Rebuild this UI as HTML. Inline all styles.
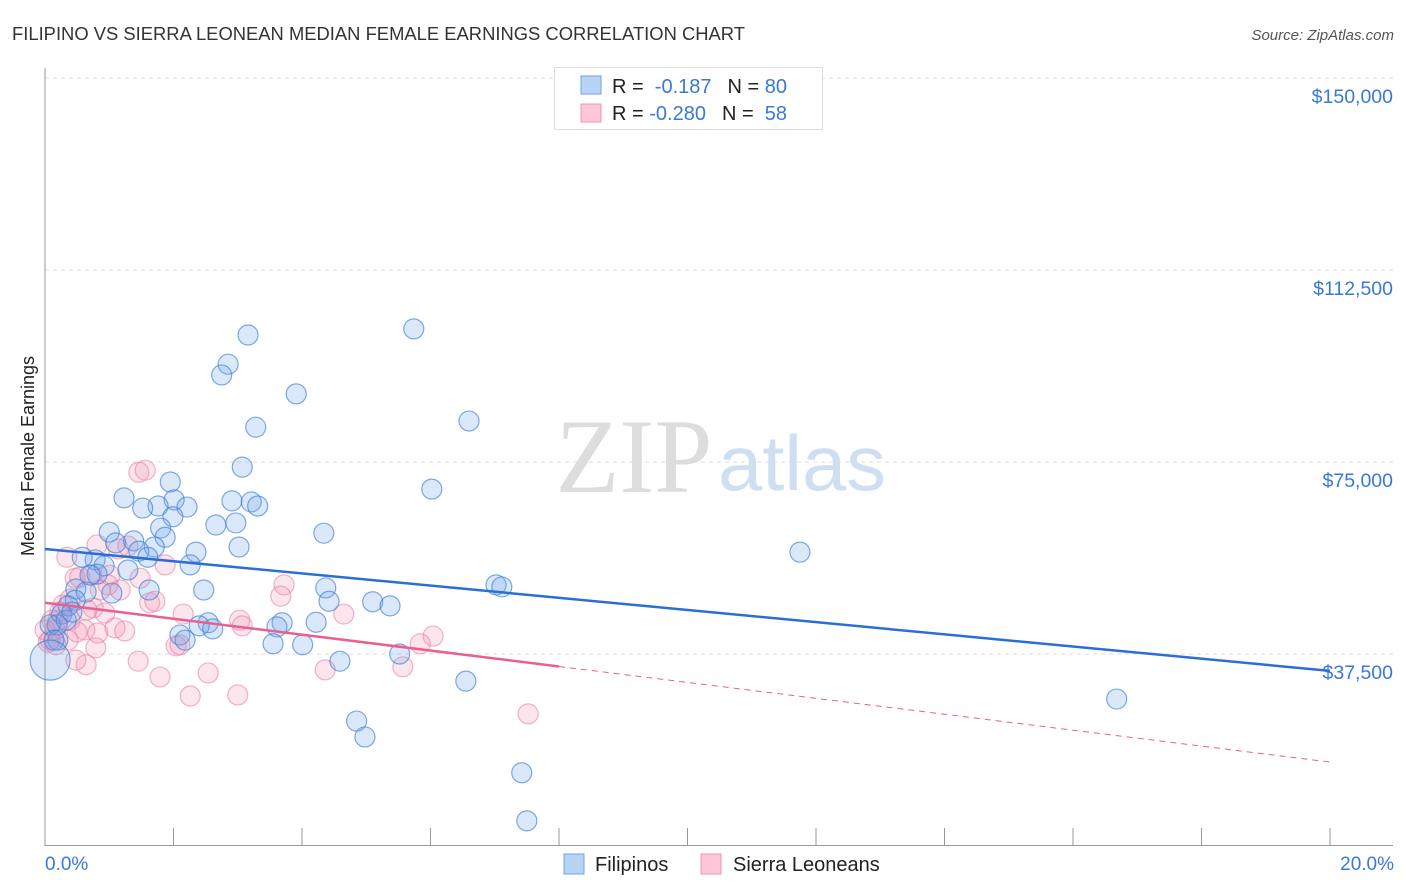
<!DOCTYPE html>
<html><head><meta charset="utf-8"><style>
body{margin:0;background:#fff;font-family:"Liberation Sans",sans-serif;}
svg{display:block}
</style></head><body>
<svg id="chart" width="1406" height="892">
<text x="12" y="40" font-size="18" fill="#333" textLength="733" lengthAdjust="spacingAndGlyphs">FILIPINO VS SIERRA LEONEAN MEDIAN FEMALE EARNINGS CORRELATION CHART</text>
<text x="1394" y="40" font-size="15" fill="#555" font-style="italic" text-anchor="end">Source: ZipAtlas.com</text>
<g>
<text x="634" y="492" font-size="106" font-family="Liberation Serif,serif" fill="#ddd" text-anchor="middle" textLength="157" lengthAdjust="spacingAndGlyphs">ZIP</text>
<text x="802" y="490" font-size="78" fill="#cfdff3" text-anchor="middle" textLength="168" lengthAdjust="spacingAndGlyphs">atlas</text>
</g>
<text transform="translate(34,456) rotate(-90)" font-size="18" fill="#222" text-anchor="middle">Median Female Earnings</text>
<g id="grid"></g><g id="ticks"></g><g id="pts"></g><g id="lines"></g>
<g>
<rect x="554.5" y="67.5" width="268" height="62" fill="#fff" stroke="#ddd"/>
<rect x="581" y="76" width="20" height="18" fill="#b8d4f5" stroke="#6fa3e6"/>
<rect x="581" y="104" width="20" height="18" fill="#fcc8d8" stroke="#ec95b0"/>
<text x="612" y="93" font-size="20" fill="#222">R = <tspan fill="#3a78d8">&#160;-0.187</tspan><tspan dx="16">N = </tspan><tspan fill="#3a78d8">80</tspan></text>
<text x="612" y="120" font-size="20" fill="#222">R = <tspan fill="#3a78d8">-0.280</tspan><tspan dx="16">N = </tspan><tspan fill="#3a78d8">&#160;58</tspan></text>
</g>
<text x="45" y="870" font-size="19" fill="#3a78d8">0.0%</text>
<text x="1394" y="870" font-size="19" fill="#3a78d8" text-anchor="end">20.0%</text>
<g>
<rect x="564" y="854" width="20" height="20" fill="#b8d4f5" stroke="#6fa3e6"/>
<text x="595" y="871" font-size="20" fill="#222">Filipinos</text>
<rect x="701" y="854" width="20" height="20" fill="#fcc8d8" stroke="#ec95b0"/>
<text x="733" y="871" font-size="20" fill="#222">Sierra Leoneans</text>
</g>
</svg>
<script>
const yTicks=[37500,75000,112500,150000];
const yTickLabels=["$37,500","$75,000","$112,500","$150,000"];
const blueX=[3.16,2.85,2.75,5.74,3.91,3.28,6.60,3.07,6.02,1.23,1.95,2.01,2.91,3.21,3.31,1.76,1.52,2.21,1.99,2.66,2.97,1.00,1.80,4.34,1.87,1.10,1.38,3.02,1.70,2.35,1.46,11.75,1.60,0.78,0.58,2.26,1.29,0.92,0.81,0.70,4.37,7.02,7.11,2.47,0.48,1.62,0.64,1.04,4.42,5.10,5.37,0.47,0.36,0.26,4.22,3.69,3.61,2.54,2.40,2.61,0.19,0.08,2.10,2.18,3.55,4.01,4.59,5.52,6.55,16.68,4.85,4.98,7.42,7.50,0.33,0.20,0.42,0.14,0.08];
const blueY=[99800,94100,92000,101000,88300,81800,83000,74000,69700,68000,71100,67600,67400,67200,66400,66400,66000,66200,64300,62700,63100,61300,62100,61100,60300,59200,59600,58400,58400,57400,57600,57400,56400,55900,56400,54900,53900,54700,53100,52900,50400,51000,50600,50000,50200,50000,49600,49400,47800,47700,46900,48000,46900,45300,43700,43600,42800,43600,43000,42400,43200,43200,41200,40200,39500,39300,36100,37500,32200,28700,24400,21300,14300,4900,44100,40200,45700,40200,36300];
const blueBig=[0,0,0,0,0,0,0,0,0,0,0,0,0,0,0,0,0,0,0,0,0,0,0,0,0,0,0,0,0,0,0,0,0,0,0,0,0,0,0,0,0,0,0,0,0,0,0,0,0,0,0,0,0,0,0,0,0,0,0,0,0,0,0,0,0,0,0,0,0,0,0,0,0,0,0,0,0,0,1];
const pinkX=[1.46,1.56,0.34,0.81,1.14,1.29,1.01,0.98,0.47,0.54,0.73,1.48,1.63,1.71,1.87,2.15,3.03,3.07,3.72,3.67,4.65,6.04,5.84,5.57,0.75,0.93,0.28,0.39,0.20,0.62,0.82,1.09,1.24,0.50,0.36,0.08,0.11,0.0,0.17,0.79,0.64,0.48,1.45,2.04,2.10,1.79,2.26,2.54,3.00,4.36,7.52,0.65,0.86,0.23,1.17,0.39,0.16,0.05];
const pinkY=[73000,73400,56400,58800,58000,58600,52900,51000,52300,52500,52900,52300,47500,47800,54900,45300,44100,43000,51000,48800,45300,41000,39500,35000,46500,45500,47100,48200,44100,42200,41600,42600,42000,41800,40200,40200,44100,42200,39300,38700,35400,36300,36100,39100,39300,33000,29300,33800,29500,34400,25800,46100,50000,45700,50000,44100,42200,39800];
const blueTrend=[58000,34200];
const pinkTrend=[47500,16400];
const pinkSolidEnd=8.0;
const X=v=>45+v/20*1285, Y=v=>846-v/37500*192;
const NS="http://www.w3.org/2000/svg";
function mk(t,a,p){const e=document.createElementNS(NS,t);for(const k in a)e.setAttribute(k,a[k]);p.appendChild(e);return e;}
const grid=document.getElementById('grid'),ticks=document.getElementById('ticks'),pts=document.getElementById('pts'),lines=document.getElementById('lines');
yTicks.forEach((t,i)=>{
 const g=mk('line',{x1:45,x2:1393,y1:Y(t),y2:Y(t),stroke:'#ddd','stroke-dasharray':'4,4'},grid);
 
 
 const l=mk('text',{x:1393,y:Y(t)+25,'font-size':19.5,fill:'#3a78d8','text-anchor':'end'},grid);
 l.textContent=yTickLabels[i];
 
 
});
const ax=mk('line',{x1:45,x2:45,y1:68,y2:846,stroke:'#999'},ticks);


const bx=mk('line',{x1:45,x2:1393,y1:845.5,y2:845.5,stroke:'#999'},ticks);


for(let i=1;i<=10;i++){const t=mk('line',{x1:X(i*2),x2:X(i*2),y1:828,y2:846,stroke:'#999'},ticks);
 
 }
pinkX.forEach((x,i)=>{const c=mk('circle',{cx:X(x),cy:Y(pinkY[i]),r:10,fill:'rgba(244,150,180,0.25)',stroke:'rgba(230,120,155,0.55)','stroke-width':1.2},pts);
 
 });
blueX.forEach((x,i)=>{const c=mk('circle',{cx:X(x),cy:Y(blueY[i]),r:blueBig[i]?20:10,fill:'rgba(110,165,235,0.25)',stroke:'rgba(60,125,215,0.65)','stroke-width':1.2},pts);
 
 });
const bl=mk('line',{x1:X(0),y1:Y(blueTrend[0]),x2:X(20),y2:Y(blueTrend[1]),stroke:'#2a6fd6','stroke-width':2.5},lines);


const pv=x=>pinkTrend[0]+(pinkTrend[1]-pinkTrend[0])*x/20;
const ps=mk('line',{x1:X(0),y1:Y(pv(0)),x2:X(pinkSolidEnd),y2:Y(pv(pinkSolidEnd)),stroke:'#e8608e','stroke-width':2.5},lines);


const pd=mk('line',{x1:X(pinkSolidEnd),y1:Y(pv(pinkSolidEnd)),x2:X(20),y2:Y(pv(20)),stroke:'#e8608e','stroke-width':1,'stroke-dasharray':'6,5'},lines);


</script>
</body></html>
